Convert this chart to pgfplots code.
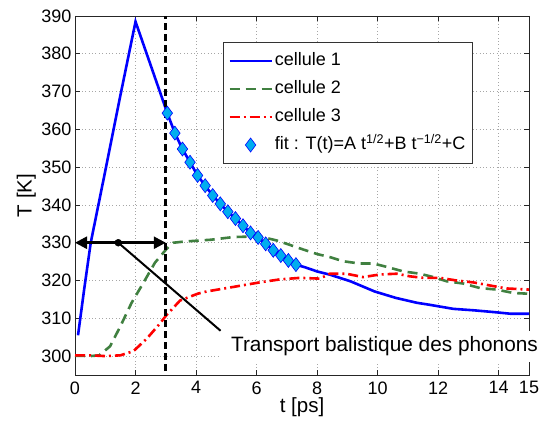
\documentclass[border=0pt]{standalone}
\usepackage{fontspec}
\setmainfont{Liberation Sans}
\usepackage{pgfplots}
\pgfplotsset{compat=1.18}
\usetikzlibrary{arrows.meta}
\definecolor{mgreen}{rgb}{0.25,0.5,0.25}
\begin{document}
\begin{tikzpicture}
\begin{axis}[
  scale only axis, width=454bp, height=359bp,
  xmin=0, xmax=15, ymin=295, ymax=390,
  xtick={0,2,4,6,8,10,12,14,15},
  ytick={300,310,...,390},
  tick align=inside, tick pos=both, major tick length=5bp,
  grid=major,
  major grid style={gray!70, line width=0.6bp, dash pattern=on 0.8bp off 2.6bp},
  axis line style={black!85, line width=0.8bp},
  tick style={black!85, line width=0.6bp},
  /pgf/number format/assume math mode=true,
  tick label style={font=\fontsize{18bp}{21bp}\selectfont},
  xticklabel style={yshift=-3bp},
  label style={font=\fontsize{20.5bp}{24bp}\selectfont},
  xlabel={t [ps]}, ylabel={T [K]},
  xlabel style={at={(axis description cs:0.5,-0.1058)}, anchor=base},
  ylabel style={at={(axis description cs:-0.0954,0.5)}, anchor=base},
  clip=false,
  legend cell align=left,
  legend image code/.code={\draw[mark repeat=2,mark phase=2,#1] plot coordinates {(0bp,0bp)(21bp,0bp)(42bp,0bp)};},
  legend style={at={(rel axis cs:0.326,0.927)}, anchor=north west,
    draw=black!80, line width=0.6bp, fill=white,
    font=\fontsize{18bp}{21bp}\selectfont,
    inner xsep=5bp, inner ysep=8bp, row sep=7bp,
    nodes={inner sep=2bp, text height=13bp, text depth=4bp}},
]
\addplot[blue, line width=2.6bp] coordinates {
(0.1,305.5)(0.3,317.5)(0.52,330)(1,349)(1.5,369)(2,388.5)
(3.05,364.3)(3.3,359)(3.55,354.8)(3.8,351.3)(4.05,347.8)(4.3,345.1)
(4.55,342.5)(4.8,340.3)(5.05,338.2)(5.3,336.4)(5.55,334.5)(5.8,332.6)
(6.05,331.4)(6.3,329.7)(6.55,328)(6.8,326.6)(7.05,325.3)(7.3,324.2)
(7.6,323.5)(8,322.4)(8.4,321.6)(9.1,319.8)(9.9,317.1)(10.6,315.4)
(11.3,314.1)(11.7,313.6)(12.5,312.5)(13.2,312.1)(13.9,311.6)(14.4,311.2)(15,311.2)};
\addlegendentry{cellule 1}
\addplot[mgreen, line width=2.6bp, dash pattern=on 10bp off 6bp] coordinates {
(0,300.1)(0.5,300)(0.8,300.2)(1.16,302.6)(1.5,307.9)(1.87,314.1)(2.26,319.4)
(2.64,324.7)(3.03,328.4)(3.25,330)(3.6,330.3)(4.13,330.6)(4.5,330.8)(5.23,331.5)
(6.1,331.7)(6.66,330.6)(7.0,329.7)(7.54,328.2)(8.0,327)(8.42,326.2)(8.86,325.1)
(9.4,324.5)(9.86,324.5)(10.3,323.6)(10.85,322.4)(11.4,321.8)(11.84,320.9)
(12.28,319.8)(12.83,319.2)(13.38,318)(13.93,317.6)(14.48,316.7)(15,316.5)};
\addlegendentry{cellule 2}
\addplot[red, line width=2.6bp, dash pattern=on 10bp off 4bp on 2bp off 4bp] coordinates {
(0,300.2)(0.5,300.2)(1,300)(1.5,300.2)(1.93,301.3)(2.37,304.6)(2.75,308.1)
(3.03,310.9)(3.47,314.7)(4.05,316.5)(4.35,317.1)(5.23,318.3)(6.1,319.5)
(6.77,320.3)(7.43,320.7)(8.09,320.5)(8.42,321.8)(8.97,321.8)(9.52,320.9)
(10.07,321.6)(10.63,321.8)(11.07,321.1)(11.51,320.7)(12.06,320.7)(12.61,320)
(13.16,319.5)(13.7,318.7)(14.25,317.9)(15,317.6)};
\addlegendentry{cellule 3}
\addplot[only marks, mark=diamond*, mark size=7bp, mark options={fill=cyan, draw=blue, line width=0.6bp}] coordinates {
(3.05,364.3)(3.3,359)(3.55,354.8)(3.8,351.3)(4.05,347.8)(4.3,345.1)
(4.55,342.5)(4.8,340.3)(5.05,338.2)(5.3,336.4)(5.55,334.5)(5.8,332.6)
(6.05,331.4)(6.3,329.7)(6.55,328)(6.8,326.6)(7.05,325.3)(7.3,324.2)};
\addlegendentry{fit : T(t)=A t\textsuperscript{1/2}+B t\textsuperscript{−1/2}+C\hspace{9bp}}
% annotations
\addplot[forget plot, black, line width=3bp, dash pattern=on 7bp off 4bp] coordinates {(3,296)(3,390)};
\addplot[forget plot, black, line width=2.5bp, {Triangle[length=12bp,width=12bp]}-{Triangle[length=12bp,width=12bp]}] coordinates {(0,330)(3,330)};
\addplot[forget plot, black, line width=2bp] coordinates {(1.43,330)(4.81,306.7)};
\addplot[forget plot, only marks, mark=*, mark size=3.5bp, black] coordinates {(1.43,330)};
\node[fill=white, inner xsep=10bp, inner ysep=6bp, anchor=base west, font=\fontsize{20.8bp}{24bp}\selectfont] at (axis cs:4.82,301.1) {Transport balistique des phonons};
\end{axis}
\pgfresetboundingbox
\path ([shift={(-75bp,-49bp)}]current axis.south west) rectangle ([shift={(15bp,16bp)}]current axis.north east);
\end{tikzpicture}
\end{document}
